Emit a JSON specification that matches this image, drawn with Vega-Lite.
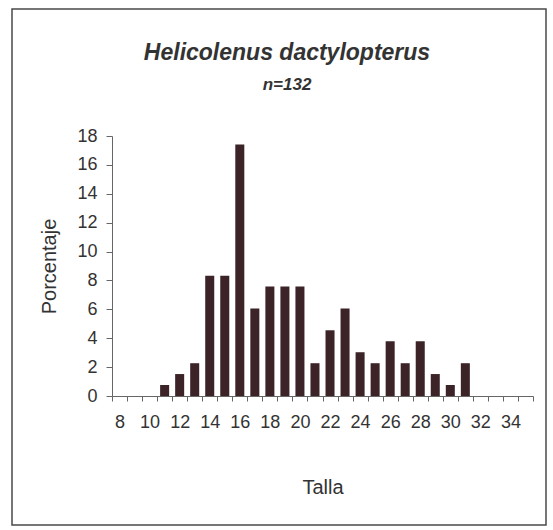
{
  "$schema": "https://vega.github.io/schema/vega-lite/v6.json",
  "autosize": "none",
  "width": 534,
  "height": 516,
  "padding": {"left": 12, "top": 9, "right": 7, "bottom": 5},
  "background": "white",
  "config": {
    "font": "Liberation Sans",
    "view": {"stroke": "#4a4a4a", "strokeWidth": 1.5, "fill": "white"}
  },
  "title": {
    "text": "Helicolenus dactylopterus",
    "subtitle": "n=132",
    "anchor": "middle",
    "frame": "group",
    "offset": -84,
    "dx": 8,
    "font": "Liberation Sans",
    "fontSize": 23,
    "fontStyle": "italic",
    "fontWeight": "bold",
    "color": "#333333",
    "subtitleFont": "Liberation Sans",
    "subtitleFontSize": 17,
    "subtitleFontStyle": "italic",
    "subtitleFontWeight": "bold",
    "subtitleColor": "#333333",
    "subtitlePadding": 12
  },
  "data": {
    "values": [
      {"talla": 11, "porcentaje": 0.76},
      {"talla": 12, "porcentaje": 1.52},
      {"talla": 13, "porcentaje": 2.27},
      {"talla": 14, "porcentaje": 8.33},
      {"talla": 15, "porcentaje": 8.33},
      {"talla": 16, "porcentaje": 17.42},
      {"talla": 17, "porcentaje": 6.06},
      {"talla": 18, "porcentaje": 7.58},
      {"talla": 19, "porcentaje": 7.58},
      {"talla": 20, "porcentaje": 7.58},
      {"talla": 21, "porcentaje": 2.27},
      {"talla": 22, "porcentaje": 4.55},
      {"talla": 23, "porcentaje": 6.06},
      {"talla": 24, "porcentaje": 3.03},
      {"talla": 25, "porcentaje": 2.27},
      {"talla": 26, "porcentaje": 3.79},
      {"talla": 27, "porcentaje": 2.27},
      {"talla": 28, "porcentaje": 3.79},
      {"talla": 29, "porcentaje": 1.52},
      {"talla": 30, "porcentaje": 0.76},
      {"talla": 31, "porcentaje": 2.27}
    ]
  },
  "mark": {"type": "bar", "width": {"band": 0.6}, "color": "#3c2328"},
  "encoding": {
    "x": {
      "field": "talla",
      "type": "ordinal",
      "scale": {
        "domain": [8,9,10,11,12,13,14,15,16,17,18,19,20,21,22,23,24,25,26,27,28,29,30,31,32,33,34,35],
        "range": [100, 521],
        "paddingInner": 0,
        "paddingOuter": 0
      },
      "axis": {
        "orient": "bottom",
        "offset": -129,
        "title": "Talla",
        "titleFont": "Liberation Sans",
        "titleFontSize": 20,
        "titleFontWeight": "normal",
        "titleColor": "#333333",
        "titlePadding": 46,
        "labelExpr": "datum.value % 2 == 0 ? datum.label : ''",
        "labelAngle": 0,
        "labelOverlap": false,
        "labelFlush": false,
        "labelFontSize": 18,
        "labelColor": "#333333",
        "labelPadding": 12,
        "tickBand": "extent",
        "tickSize": 5,
        "tickColor": "#666666",
        "domainColor": "#666666",
        "grid": false
      }
    },
    "y": {
      "field": "porcentaje",
      "type": "quantitative",
      "scale": {"domain": [0, 18], "range": [387, 127], "nice": false, "zero": true},
      "axis": {
        "orient": "left",
        "offset": -100,
        "title": "Porcentaje",
        "titleFont": "Liberation Sans",
        "titleFontSize": 20,
        "titleFontWeight": "normal",
        "titleColor": "#333333",
        "titlePadding": 17,
        "values": [0, 2, 4, 6, 8, 10, 12, 14, 16, 18],
        "labelFontSize": 18,
        "labelColor": "#333333",
        "labelPadding": 9,
        "tickSize": 6,
        "tickColor": "#666666",
        "domainColor": "#666666",
        "grid": false
      }
    }
  }
}
